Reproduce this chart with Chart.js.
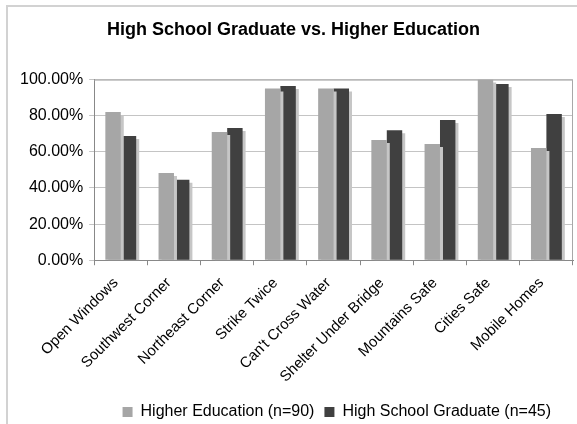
<!DOCTYPE html>
<html>
<head>
<meta charset="utf-8">
<script src="https://cdn.jsdelivr.net/npm/chart.js@4"></script>
<style>
  html, body { margin: 0; padding: 0; background: #fff; }
  #wrap { position: relative; width: 577px; height: 424px; overflow: hidden; }
  #frame { position: absolute; left: 6px; top: 5px; width: 600px; height: 450px;
           border-left: 2px solid #d2d2d2; border-top: 2px solid #d2d2d2; }
  #myChart { position: absolute; left: 0; top: 0; }
</style>
</head>
<body>
<div id="wrap">
  <div id="frame"></div>
  <canvas id="myChart" width="577" height="424"></canvas>
</div>
<script>
const categories = ["Open Windows", "Southwest Corner", "Northeast Corner", "Strike Twice",
    "Can't Cross Water", "Shelter Under Bridge", "Mountains Safe", "Cities Safe", "Mobile Homes"];
const higherEd = [82.0, 48.3, 71.0, 95.1, 95.1, 66.5, 64.3, 100.0, 62.1];
const highSchool = [68.8, 44.6, 73.2, 96.5, 95.1, 71.9, 77.7, 97.6, 80.9];
const yTicks = [0, 20, 40, 60, 80, 100];

const fontFam = "'Liberation Sans', Arial, sans-serif";

// grey box round the plot area, drawn under the bars
const plotFrame = {
    id: 'plotFrame',
    beforeDatasetsDraw(chart) {
        const ctx = chart.ctx;
        const a = chart.chartArea;
        ctx.save();
        ctx.strokeStyle = '#a8a8a8';
        ctx.lineWidth = 1;
        ctx.beginPath();
        ctx.moveTo(a.left, a.top + 0.5);
        ctx.lineTo(a.right - 0.5, a.top + 0.5);
        ctx.lineTo(a.right - 0.5, a.bottom);
        ctx.stroke();
        ctx.restore();
    }
};

// the little drop shadow to the right of each bar
const barShadow = {
    id: 'barShadow',
    beforeDatasetsDraw(chart) {
        const ctx = chart.ctx;
        const a = chart.chartArea;
        ctx.save();
        ctx.beginPath();
        ctx.rect(a.left, a.top - 2, a.right - a.left, a.bottom - a.top + 2);
        ctx.clip();
        ctx.shadowColor = '#c6c6c6';
        ctx.shadowOffsetX = 3;
        ctx.shadowOffsetY = 3;
        ctx.shadowBlur = 0;
    },
    afterDatasetsDraw(chart) {
        chart.ctx.restore();
    }
};

// legend sits a bit left of the right edge in the original
const legendShift = {
    id: 'legendShift',
    afterLayout(chart) {
        chart.legend.left -= 12;
        chart.legend.right -= 12;
    }
};

new Chart("myChart", {
    type: "bar",
    data: {
        labels: categories,
        datasets: [{
            label: "Higher Education (n=90)",
            data: higherEd,
            backgroundColor: "#a6a6a6",
            borderWidth: 0
        }, {
            label: "High School Graduate (n=45)",
            data: highSchool,
            backgroundColor: "#404040",
            borderWidth: 0
        }]
    },
    options: {
        responsive: false,
        animation: false,
        layout: {
            padding: { left: 14, right: 4, top: 0, bottom: -6 }
        },
        datasets: {
            bar: { barPercentage: 1, categoryPercentage: 0.58 }
        },
        plugins: {
            title: {
                display: true,
                text: "High School Graduate vs. Higher Education",
                color: "#000",
                font: { family: fontFam, size: 18, weight: "bold" },
                padding: { top: 19, bottom: 39 }
            },
            legend: {
                position: "bottom",
                align: "end",
                labels: {
                    color: "#000",
                    boxWidth: 10,
                    boxHeight: 10,
                    padding: 10,
                    font: { family: fontFam, size: 16 }
                }
            },
            tooltip: { enabled: false }
        },
        scales: {
            x: {
                grid: {
                    offset: true,
                    drawOnChartArea: false,
                    tickLength: 5,
                    color: "#888"
                },
                border: { color: "#888" },
                ticks: {
                    color: "#000",
                    maxRotation: 45,
                    minRotation: 45,
                    labelOffset: -5,
                    padding: 9,
                    font: { family: fontFam, size: 15 }
                },
                afterFit: function(axis) {
                    axis.height -= 1;
                }
            },
            y: {
                min: 0,
                max: 100,
                afterBuildTicks: function(axis) {
                    axis.ticks = yTicks.map(function(v) { return { value: v }; });
                },
                grid: {
                    color: "#c4c4c4",
                    tickLength: 5
                },
                border: { color: "#888" },
                ticks: {
                    color: "#000",
                    padding: 6,
                    font: { family: fontFam, size: 16 },
                    callback: function(v) { return v.toFixed(2) + "%"; }
                }
            }
        }
    },
    plugins: [plotFrame, barShadow, legendShift]
});
</script>
</body>
</html>
